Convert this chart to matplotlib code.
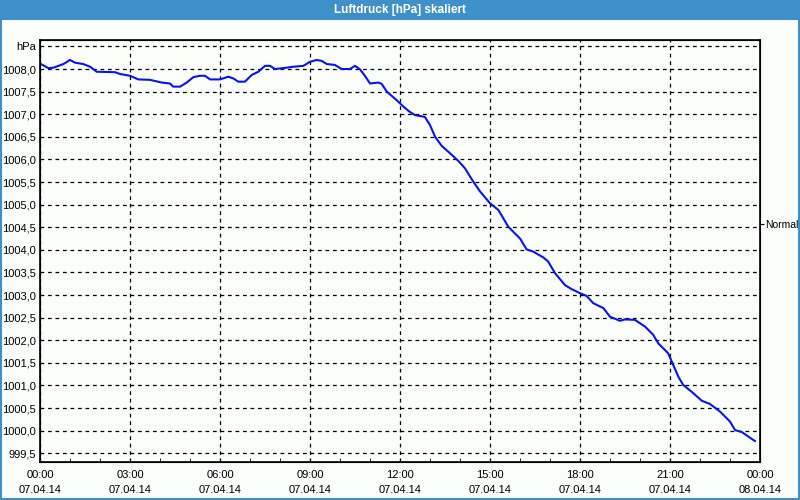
import numpy as np
import matplotlib
matplotlib.use('Agg')
import matplotlib.pyplot as plt
from matplotlib.patches import Rectangle
from matplotlib.ticker import FuncFormatter

# Daten: Stunden seit 07.04.14 00:00 und Luftdruck in hPa
stunden = [0.03, 0.28, 0.45, 0.78, 1.0, 1.17, 1.44, 1.67, 1.89, 2.5, 2.67, 3.0, 3.28,
           3.67, 4.06, 4.33, 4.44, 4.67, 4.89, 5.11, 5.33, 5.5, 5.67, 6.0, 6.28, 6.45,
           6.61, 6.83, 7.06, 7.28, 7.5, 7.67, 7.83, 8.11, 8.44, 8.78, 9.0, 9.22, 9.39,
           9.56, 9.83, 10.06, 10.33, 10.5, 10.67, 10.83, 11.0, 11.28, 11.39, 11.56,
           11.89, 12.11, 12.31, 12.5, 12.83, 13.0, 13.17, 13.39, 13.61, 13.94, 14.17,
           14.44, 14.67, 15.0, 15.28, 15.61, 16.0, 16.22, 16.44, 16.78, 16.94, 17.17,
           17.5, 17.72, 18.0, 18.22, 18.44, 18.78, 19.0, 19.33, 19.5, 19.83, 20.17,
           20.44, 20.61, 20.94, 21.11, 21.28, 21.44, 21.72, 22.06, 22.33, 22.67, 23.0,
           23.17, 23.39, 23.67, 23.83]
druck = [1008.11, 1008.02, 1008.03, 1008.11, 1008.20, 1008.14, 1008.11, 1008.05,
         1007.94, 1007.93, 1007.89, 1007.85, 1007.77, 1007.76, 1007.70, 1007.68,
         1007.61, 1007.61, 1007.70, 1007.82, 1007.85, 1007.85, 1007.77, 1007.77,
         1007.83, 1007.79, 1007.72, 1007.72, 1007.87, 1007.94, 1008.07, 1008.07,
         1008.00, 1008.02, 1008.05, 1008.07, 1008.16, 1008.20, 1008.18, 1008.11,
         1008.09, 1008.00, 1008.00, 1008.07, 1007.99, 1007.85, 1007.68, 1007.70,
         1007.67, 1007.50, 1007.31, 1007.17, 1007.06, 1006.98, 1006.94, 1006.76,
         1006.50, 1006.30, 1006.17, 1005.97, 1005.80, 1005.51, 1005.29, 1005.03,
         1004.88, 1004.51, 1004.25, 1004.01, 1003.96, 1003.83, 1003.74, 1003.48,
         1003.22, 1003.13, 1003.04, 1002.98, 1002.82, 1002.71, 1002.52, 1002.43,
         1002.46, 1002.45, 1002.30, 1002.12, 1001.93, 1001.71, 1001.45, 1001.19,
         1001.01, 1000.86, 1000.66, 1000.59, 1000.42, 1000.20, 1000.01, 999.97,
         999.84, 999.77]

y_ticks = list(np.arange(999.5, 1008.01, 0.5))
x_ticks = [0, 3, 6, 9, 12, 15, 18, 21, 24]
x_labels = ['00:00\n07.04.14', '03:00\n07.04.14', '06:00\n07.04.14', '09:00\n07.04.14',
            '12:00\n07.04.14', '15:00\n07.04.14', '18:00\n07.04.14', '21:00\n07.04.14',
            '00:00\n08.04.14']
normal_wert = 1004.57

plt.rcParams['font.family'] = ['Liberation Sans', 'DejaVu Sans']

fig = plt.figure(figsize=(8, 5), dpi=100, facecolor='#fafdfa')

# Fensterrahmen und Titelleiste
blau = '#3d90c8'
fig.patches.append(Rectangle((0, 0.96), 1, 0.04, transform=fig.transFigure,
                             facecolor=blau, edgecolor='none', zorder=0))
fig.patches.append(Rectangle((0.0012, 0.003), 0.9975, 0.96, transform=fig.transFigure,
                             facecolor='none', edgecolor=blau, linewidth=1.5, zorder=0))
fig.text(0.5, 0.979, 'Luftdruck [hPa] skaliert', color='white', fontsize=8.5,
         fontweight='bold', ha='center', va='center')

ax = fig.add_axes([0.05, 0.0766, 0.90, 0.8434])
ax.set_facecolor('#fafdfa')
ax.plot(stunden, druck, color='#0a14e6', linewidth=1.5, zorder=3)

ax.set_xlim(0, 24)
ax.set_ylim(999.312, 1008.642)

ax.set_yticks(y_ticks + [1008.5])
ax.yaxis.set_major_formatter(FuncFormatter(
    lambda v, p: 'hPa' if v > 1008.25 else ('%.1f' % v).replace('.', ',')))
ax.set_xticks(x_ticks)
ax.set_xticklabels(x_labels, linespacing=1.6)
ax.set_xticks(range(25), minor=True)

ax.grid(True, which='major', color='black', linestyle=(0, (3, 3)), linewidth=0.9)
ax.tick_params(axis='y', which='major', length=0, pad=3, labelsize=8)
ax.tick_params(axis='x', which='major', direction='in', length=3, pad=6, labelsize=8)
ax.tick_params(axis='x', which='minor', direction='in', length=3)
for s in ax.spines.values():
    s.set_linewidth(1.2)

# rechte Achse mit "Normal"
ax2 = ax.twinx()
ax2.set_ylim(ax.get_ylim())
ax2.set_yticks([normal_wert])
ax2.set_yticklabels(['Normal'])
ax2.tick_params(axis='y', length=3, pad=1, labelsize=7.5)

plt.savefig('out.png', dpi=100, facecolor=fig.get_facecolor())
